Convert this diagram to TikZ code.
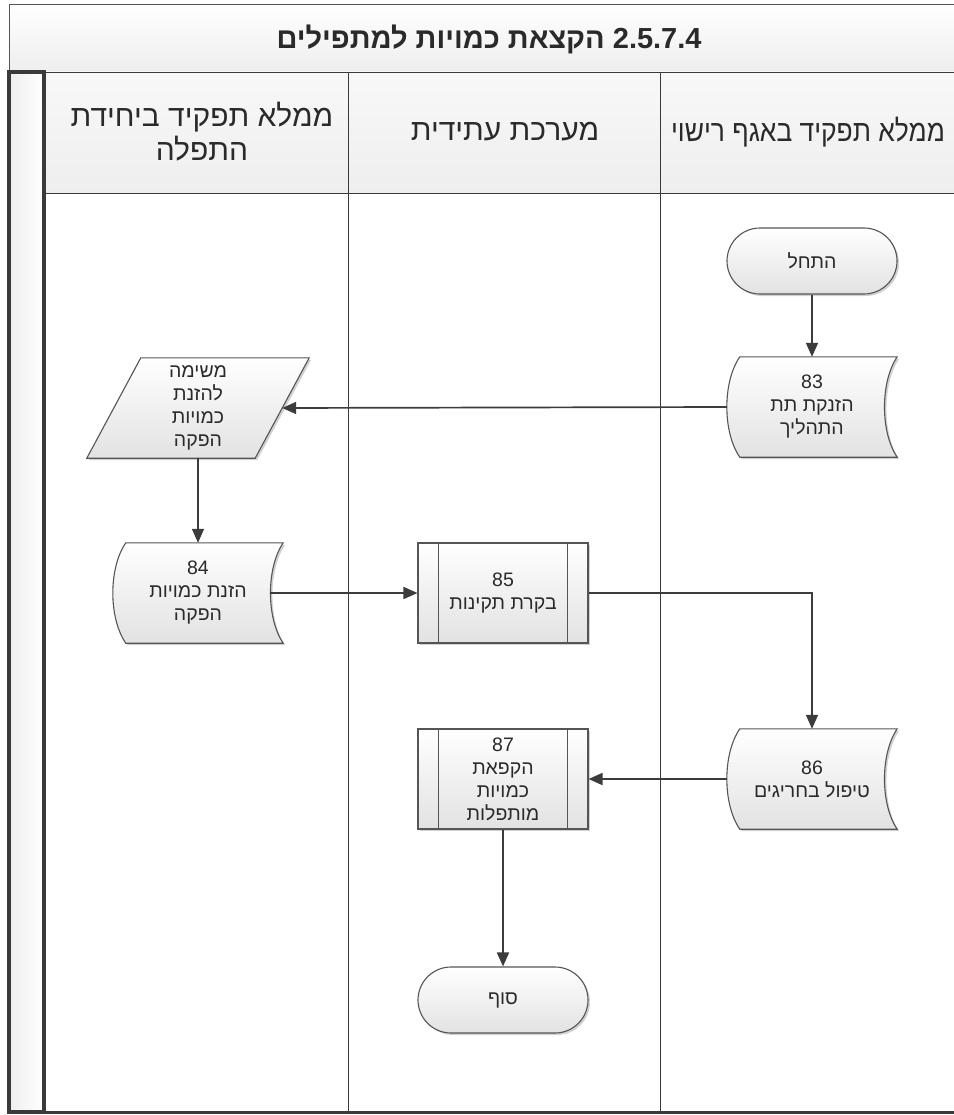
\documentclass[tikz,border=0pt]{standalone}
\usepackage{fontspec}
\newfontfamily\heb[Script=Hebrew]{Liberation Sans}
\TeXXeTstate=1
\usetikzlibrary{arrows.meta,shapes.misc,shadows,calc}
\pgfdeclarelayer{bg}
\pgfdeclarelayer{shp}
\pgfsetlayers{bg,shp,main}
\newcommand\hb[1]{\beginR #1\endR}
\newcommand\sdpath[1]{%
  \path[shpst] ($(#1.north west)+(13,0)$) -- (#1.north east)
    .. controls ($(#1.north east)+(-17,25)$) and ($(#1.south east)+(-17,-25)$) .. (#1.south east)
    -- ($(#1.south west)+(13,0)$)
    .. controls ($(#1.south west)+(-4.3,-25)$) and ($(#1.north west)+(-4.3,25)$) .. cycle;}
\definecolor{linec}{HTML}{555555}
\definecolor{arrc}{HTML}{3C3C3C}
\definecolor{fillb}{HTML}{E2E2E2}
\definecolor{hdrc}{HTML}{EEEEEE}
\definecolor{textc}{HTML}{2A2A2A}
\definecolor{poolc}{HTML}{3A3A3A}
\begin{document}
\begin{tikzpicture}[x=1pt,y=-1pt,
  shpst/.style={draw=linec, line width=1.1pt, top color=white, bottom color=fillb,
    drop shadow={shadow xshift=2pt, shadow yshift=-2pt, opacity=0.18, fill=black}},
  txt/.style={font=\heb\fontsize{19.5}{23}\selectfont, align=center, text=textc, inner sep=0pt},
  hdr/.style={font=\heb\fontsize{30}{34}\selectfont, align=center, text=textc, inner sep=0pt},
  term/.style={shpst, txt, rounded rectangle, minimum width=170pt, minimum height=66pt},
  pred/.style={shpst, txt, rectangle, minimum width=170pt, minimum height=100pt},
  sd/.style={txt, rectangle, minimum width=170pt, minimum height=100pt},
  parbox/.style={txt, rectangle, minimum width=168pt, minimum height=100pt},
  arr/.style={draw=arrc, line width=1.7pt, -{Triangle[length=14pt,width=12pt]}},
  lane/.style={draw=poolc, line width=0.9pt}]
\useasboundingbox (0,0) rectangle (953,1115);
\clip (0,0) rectangle (953,1115);

% ---- nodes ----
\node[font=\heb\bfseries\fontsize{29}{34}\selectfont, text=textc] (title) at (489,39)
  {\beginR\beginL 2.5.7.4\endL{} הקצאת כמויות למתפילים\endR};
\node[hdr] (h1) at (202,132) {\hb{ממלא תפקיד ביחידת}\\\hb{התפלה}};
\node[hdr] (h2) at (505,132) {\hb{מערכת עתידית}};
\node[hdr] (h3) at (808,132) {\scalebox{0.88}[1]{\hb{ממלא תפקיד באגף רישוי}}};

\node[term] (start) at (812,261) {\hb{התחל}};
\node[sd] (n83) at (812,407) {83\\\hb{הזנקת תת}\\\hb{התהליך}};
\node[parbox] (par) at (198,408) {\hb{משימה}\\\hb{להזנת}\\\hb{כמויות}\\\hb{הפקה}};
\node[sd] (n84) at (198,593) {84\\\hb{הזנת כמויות}\\\hb{הפקה}};
\node[pred] (n85) at (503,593) {85\\\hb{בקרת תקינות}};
\node[sd] (n86) at (812,779) {86\\\hb{טיפול בחריגים}};
\node[pred] (n87) at (503,779) {87\\\hb{הקפאת}\\\hb{כמויות}\\\hb{מותפלות}};
\node[term] (end) at (503,1000) {\hb{סוף}};

\foreach \n in {n85,n87}{
  \draw[draw=linec, line width=1.1pt] ($(\n.north west)+(21,0)$) -- ($(\n.south west)+(21,0)$);
  \draw[draw=linec, line width=1.1pt] ($(\n.north east)+(-21,0)$) -- ($(\n.south east)+(-21,0)$);
}

% ---- background: pool and lanes ----
\begin{pgfonlayer}{bg}
  \fill[white] (0,0) rectangle (953,1115);
  \draw[draw=linec, line width=0.9pt, top color=white, bottom color=hdrc] (9,4) rectangle (1010,72);
  \draw[lane, top color=white!60!hdrc, bottom color=hdrc] (45,72) rectangle (348,193);
  \draw[lane, top color=white!60!hdrc, bottom color=hdrc] (348,72) rectangle (660,193);
  \draw[lane, top color=white!60!hdrc, bottom color=hdrc] (660,72) rectangle (1010,193);
  \draw[lane] (348,193) -- (348,1112);
  \draw[lane] (660,193) -- (660,1112);
  \draw[draw=poolc, line width=3pt] (9,1112) -- (1010,1112);
  \draw[draw=poolc, line width=4pt, left color=hdrc, right color=white] (9,72) rectangle (44,1112);
\end{pgfonlayer}

% ---- custom shapes ----
\begin{pgfonlayer}{shp}
  \sdpath{n83}
  \sdpath{n84}
  \sdpath{n86}
  \path[shpst] ($(par.north west)+(27,0)$) -- ($(par.north east)+(27,0)$)
     -- ($(par.south east)+(-27,0)$) -- ($(par.south west)+(-27,0)$) -- cycle;
\end{pgfonlayer}

% ---- connectors ----
\draw[arr] (start.south) -- (n83.north);
\draw[arr] (n83.west) -- (par.east);
\draw[arr] (par.south) -- (n84.north);
\draw[arr] ([xshift=-13pt]n84.east) -- (n85.west);
\draw[arr] (n85.east) -| (n86.north);
\draw[arr] (n86.west) -- (n87.east);
\draw[arr] (n87.south) -- (end.north);
\end{tikzpicture}
\end{document}
